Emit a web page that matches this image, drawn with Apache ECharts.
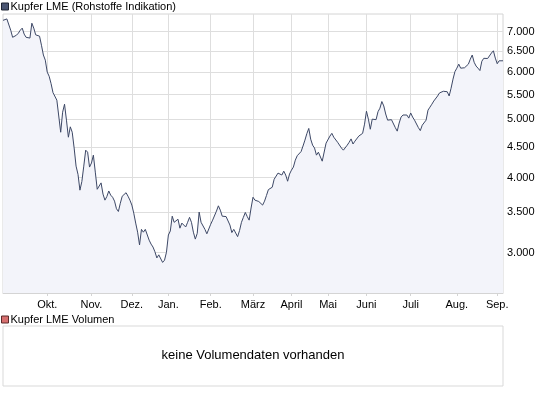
<!DOCTYPE html>
<html>
<head>
<meta charset="utf-8">
<script src="https://cdn.jsdelivr.net/npm/echarts@6/dist/echarts.min.js"></script>
<style>html,body{margin:0;padding:0;background:#fff}#c{width:545px;height:395px}</style>
</head>
<body>
<div id="c"></div>
<script>
const seriesName = 'Kupfer LME (Rohstoffe Indikation)';
const volumeName = 'Kupfer LME Volumen';
const noVolumeText = 'keine Volumendaten vorhanden';
const monthLabels = ['Okt.','Nov.','Dez.','Jan.','Feb.','März','April','Mai','Juni','Juli','Aug.','Sep.'];
const monthStartIdx = [23,46,67,86,108,130,150,169,189,212,236,257];
const yTicks = [3000,3500,4000,4500,5000,5500,6000,6500,7000];
const yMinVal = 2570, yMaxVal = 7490;
const prices = [
7310,7330,7350,7300,7040,6850,6845,6905,6960,7040,
7095,6935,6850,6800,6830,7230,7095,6915,6950,6880,
6645,6400,6275,5994,5900,5735,5540,5500,5383,5350,
4760,5140,5300,4986,4670,4860,4760,4480,4180,4050,
3812,3940,4180,4444,4410,4165,4230,4360,4085,3825,
3812,3920,3755,3669,3720,3800,3740,3710,3655,3550,
3513,3625,3725,3720,3775,3725,3669,3600,3490,3360,
3245,3090,3280,3245,3280,3295,3147,3100,3065,3010,
2940,2975,2975,2890,2915,3005,3210,3260,3450,3370,
3360,3410,3295,3360,3345,3310,3370,3435,3370,3245,
3160,3230,3505,3370,3345,3280,3225,3220,3345,3398,
3385,3518,3590,3531,3450,3425,3445,3425,3335,3240,
3280,3275,3190,3265,3370,3435,3500,3445,3398,3560,
3710,3669,3695,3650,3650,3600,3655,3735,3820,3795,
3855,3975,4000,4070,4040,4040,4100,4040,3945,4055,
4116,4165,4277,4350,4360,4420,4515,4618,4735,4830,
4635,4530,4480,4360,4410,4395,4260,4277,4565,4580,
4690,4740,4670,4670,4580,4555,4480,4444,4455,4530,
4580,4640,4550,4600,4625,4690,4670,4740,4910,5160,
5005,4815,5005,4995,4995,5150,5220,5355,5265,5105,
4986,5000,4995,4965,4845,4780,4930,5045,5085,5115,
5085,5025,5125,5045,4986,4965,4845,4790,4890,4910,
4986,5181,5240,5300,5365,5383,5470,5535,5535,5570,
5580,5560,5470,5635,5835,6005,6085,6180,6085,6110,
6095,6065,6180,6300,6400,6225,6135,6085,6030,6250,
6320,6325,6315,6350,6450,6505,6325,6190,6260,6275,
6260
];

const days = prices.map((_, i) => i);
const isMonthStart = (i) => monthStartIdx.indexOf(i) >= 0;
const fmt = (n) => String(n).replace(/\B(?=(\d{3})+(?!\d))/g, '.');
const FONT = '"Liberation Sans", Arial, sans-serif';
const gridColor = '#dedede';

const chart = echarts.init(document.getElementById('c'), null, {renderer: 'canvas'});
chart.setOption({
  animation: false,
  backgroundColor: '#ffffff',
  textStyle: {fontFamily: FONT},
  legend: [
    {
      data: [seriesName], left: 1, top: 1, icon: 'rect', itemWidth: 7, itemHeight: 7,
      itemStyle: {borderColor: '#1f2433', borderWidth: 1},
      textStyle: {fontSize: 11, color: '#000', fontFamily: FONT, padding: [0,0,0,-3]},
      selectedMode: false, padding: 0
    },
    {
      data: [volumeName], left: 1, top: 314, icon: 'rect', itemWidth: 7, itemHeight: 7,
      itemStyle: {borderColor: '#5a2a2a', borderWidth: 1},
      textStyle: {fontSize: 11, color: '#000', fontFamily: FONT, padding: [0,0,0,-3]},
      selectedMode: false, padding: 0
    }
  ],
  grid: [
    {left: 3, top: 14, width: 500, height: 279, show: true, borderColor: '#d4d4d4', borderWidth: 1, containLabel: false},
    {left: 3, top: 326, width: 500, height: 60, show: true, borderColor: '#d9d9d9', borderWidth: 1, containLabel: false}
  ],
  xAxis: [
    {
      type: 'category', gridIndex: 0, data: days, boundaryGap: false,
      axisLine: {show: true, lineStyle: {color: '#d4d4d4'}},
      axisTick: {show: true, length: 3, interval: (i) => isMonthStart(i), lineStyle: {color: '#d4d4d4'}},
      axisLabel: {
        interval: (i) => isMonthStart(i), margin: 6, fontSize: 11, color: '#000', fontFamily: FONT,
        formatter: (v, i) => monthLabels[monthStartIdx.indexOf(Number(v))] || ''
      },
      splitLine: {show: true, interval: (i) => isMonthStart(i), lineStyle: {color: gridColor, width: 1}}
    },
    {type: 'category', gridIndex: 1, data: [], show: false}
  ],
  yAxis: [
    {
      type: 'value', gridIndex: 0, position: 'right',
      min: Math.log(yMinVal), max: Math.log(yMaxVal),
      axisLine: {show: false},
      axisTick: {show: false, customValues: yTicks.map(Math.log)},
      axisLabel: {
        customValues: yTicks.map(Math.log), margin: 4, fontSize: 11, color: '#000', fontFamily: FONT,
        formatter: (v) => fmt(Math.round(Math.exp(v) / 100) * 100)
      },
      splitLine: {show: true, lineStyle: {color: gridColor, width: 1}}
    },
    {type: 'value', gridIndex: 1, show: false}
  ],
  graphic: [
    {
      type: 'text', x: 253, y: 355,
      style: {text: noVolumeText, fill: '#000', font: '13px ' + FONT, align: 'center', verticalAlign: 'middle'}
    }
  ],
  series: [
    {
      name: seriesName, type: 'line', xAxisIndex: 0, yAxisIndex: 0,
      data: prices.map(v => Math.log(v)),
      showSymbol: false, symbol: 'none', color: '#4a5572',
      lineStyle: {color: '#3d4866', width: 1},
      areaStyle: {color: '#f3f4fa', opacity: 1, origin: 'start'},
      z: 3
    },
    {
      name: volumeName, type: 'bar', xAxisIndex: 1, yAxisIndex: 1,
      data: [], color: '#d76f6f'
    }
  ]
});
</script>
</body>
</html>
